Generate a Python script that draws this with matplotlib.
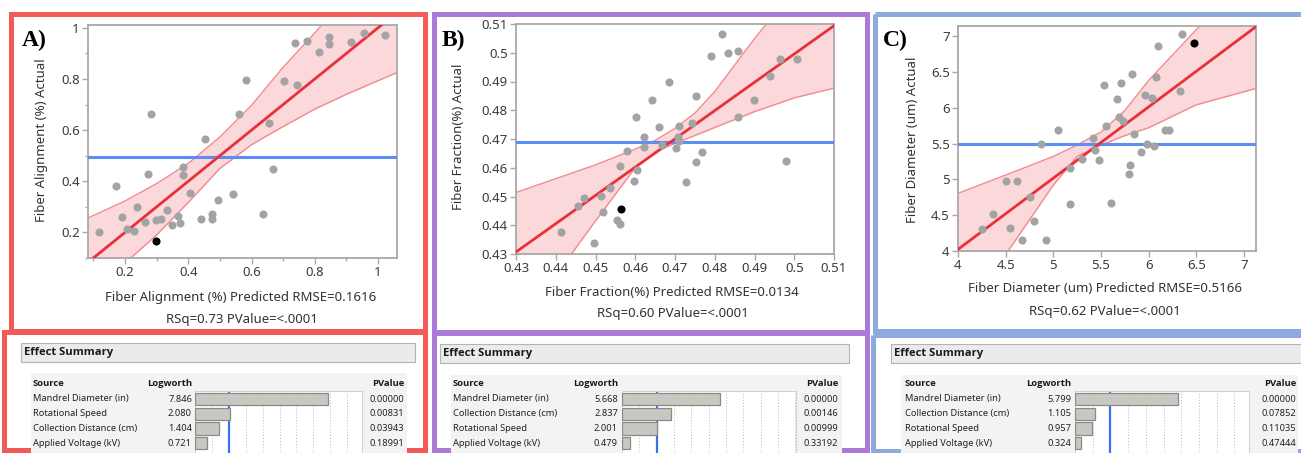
import matplotlib.pyplot as plt
from matplotlib.patches import Rectangle

plt.rcParams['font.family'] = ['Noto Sans', 'DejaVu Sans']
BOLD = ['Open Sans', 'DejaVu Sans']

W, H = 1301, 453

# ---------------- panel A : fiber alignment ----------------
a_pred = [0.119, 0.172, 0.189, 0.205, 0.229, 0.239, 0.264, 0.274, 0.281, 0.297,
          0.315, 0.333, 0.348, 0.366, 0.374, 0.382, 0.382, 0.406, 0.441, 0.452,
          0.475, 0.475, 0.493, 0.543, 0.559, 0.584, 0.635, 0.654, 0.668, 0.702,
          0.736, 0.744, 0.777, 0.812, 0.845, 0.845, 0.914, 0.956, 1.023]
a_act = [0.200, 0.383, 0.260, 0.215, 0.204, 0.301, 0.240, 0.428, 0.664, 0.248,
         0.253, 0.287, 0.228, 0.266, 0.237, 0.454, 0.423, 0.355, 0.253, 0.565,
         0.272, 0.253, 0.327, 0.351, 0.664, 0.796, 0.273, 0.627, 0.448, 0.791,
         0.940, 0.777, 0.947, 0.906, 0.965, 0.937, 0.943, 0.981, 0.971]
a_blk = (0.297, 0.165)
a_fit_x = [0.05, 1.10]
a_fit_y = [0.05, 1.10]
a_mean = 0.496
a_band_x = [0.084, 0.2, 0.3, 0.4, 0.5, 0.6, 0.7, 0.8, 0.9, 1.058]
a_band_lo = [-0.05, 0.08, 0.19, 0.317, 0.45, 0.543, 0.614, 0.682, 0.74, 0.824]
a_band_hi = [0.257, 0.323, 0.391, 0.470, 0.573, 0.697, 0.846, 0.98, 1.12, 1.33]
a_ticks = [0.2, 0.4, 0.6, 0.8, 1.0]
a_ticklabels = ['0.2', '0.4', '0.6', '0.8', '1']

# ---------------- panel B : fiber fraction ----------------
b_pred = [0.4413, 0.4455, 0.4472, 0.4495, 0.4514, 0.4520, 0.4537, 0.4554, 0.4562, 0.4562,
          0.4579, 0.4596, 0.4602, 0.4605, 0.4621, 0.4621, 0.4642, 0.4661, 0.4668, 0.4684,
          0.4702, 0.4708, 0.4711, 0.4711, 0.4727, 0.4743, 0.4752, 0.4752, 0.4769, 0.4791,
          0.4817, 0.4833, 0.4858, 0.4858, 0.4899, 0.4938, 0.4963, 0.4980, 0.5006]
b_act = [0.4378, 0.4467, 0.4494, 0.4338, 0.4502, 0.4446, 0.4530, 0.4417, 0.4403, 0.4607,
         0.4659, 0.4553, 0.4775, 0.4593, 0.4706, 0.4673, 0.4836, 0.4742, 0.4679, 0.4897,
         0.4669, 0.4706, 0.4746, 0.4692, 0.4552, 0.4756, 0.4850, 0.4619, 0.4655, 0.4988,
         0.5065, 0.5000, 0.4775, 0.5007, 0.4837, 0.4919, 0.4977, 0.4623, 0.4977]
b_blk = (0.4563, 0.4455)
b_fit_x = [0.43, 0.51]
b_fit_y = [0.4307, 0.5094]
b_mean = 0.469
b_band_x = [0.43, 0.44, 0.45, 0.46, 0.465, 0.47, 0.475, 0.48, 0.49, 0.50, 0.51]
b_band_lo = [0.404, 0.4225, 0.4415, 0.4600, 0.4655, 0.4685, 0.4712, 0.4740, 0.4795, 0.4843, 0.4877]
b_band_hi = [0.4514, 0.4562, 0.4610, 0.4665, 0.4695, 0.4737, 0.4790, 0.4865, 0.5049, 0.522, 0.54]
b_ticks = [0.43, 0.44, 0.45, 0.46, 0.47, 0.48, 0.49, 0.50, 0.51]
b_ticklabels = ['0.43', '0.44', '0.45', '0.46', '0.47', '0.48', '0.49', '0.5', '0.51']

# ---------------- panel C : fiber diameter ----------------
c_pred = [4.256, 4.371, 4.508, 4.550, 4.623, 4.669, 4.756, 4.802, 4.872, 4.921,
          5.054, 5.173, 5.180, 5.303, 5.415, 5.439, 5.478, 5.534, 5.555, 5.600,
          5.667, 5.684, 5.712, 5.733, 5.789, 5.803, 5.828, 5.849, 5.915, 5.961,
          5.982, 6.038, 6.055, 6.080, 6.097, 6.167, 6.216, 6.332, 6.349]
c_act = [4.312, 4.521, 4.972, 4.316, 4.981, 4.153, 4.749, 4.419, 5.493, 4.153,
         5.684, 5.153, 4.651, 5.288, 5.581, 5.409, 5.270, 6.316, 5.749, 4.674,
         6.116, 5.874, 6.349, 5.819, 5.070, 5.205, 6.474, 5.628, 5.381, 6.181,
         5.488, 6.140, 5.460, 6.433, 6.865, 5.688, 5.688, 6.233, 7.023]
c_blk = (6.472, 6.898)
c_fit_x = [4.0, 7.13]
c_fit_y = [4.023, 7.135]
c_mean = 5.493
c_band_x = [4.0, 4.5, 5.0, 5.25, 5.5, 5.75, 6.0, 6.5, 7.13]
c_band_lo = [3.0, 3.95, 4.92, 5.32, 5.477, 5.61, 5.72, 6.04, 6.27]
c_band_hi = [4.805, 5.06, 5.32, 5.48, 5.66, 5.96, 6.38, 7.09, 7.9]
c_ticks = [4, 4.5, 5, 5.5, 6, 6.5, 7]
c_ticklabels = ['4', '4.5', '5', '5.5', '6', '6.5', '7']

# ---------------- effect summaries ----------------
eff_a_src = ['Mandrel Diameter (in)', 'Rotational Speed',
             'Collection Distance (cm)', 'Applied Voltage (kV)']
eff_a_logw = [7.846, 2.080, 1.404, 0.721]
eff_a_p = ['0.00000', '0.00831', '0.03943', '0.18991']

eff_b_src = ['Mandrel Diameter (in)', 'Collection Distance (cm)',
             'Rotational Speed', 'Applied Voltage (kV)']
eff_b_logw = [5.668, 2.837, 2.001, 0.479]
eff_b_p = ['0.00000', '0.00146', '0.00999', '0.33192']

eff_c_src = ['Mandrel Diameter (in)', 'Collection Distance (cm)',
             'Rotational Speed', 'Applied Voltage (kV)']
eff_c_logw = [5.799, 1.105, 0.957, 0.324]
eff_c_p = ['0.00000', '0.07852', '0.11035', '0.47444']

RED = '#f25a5a'
PURPLE = '#aa7ad6'
BLUE = '#8caadc'


def px_rect(x0, y0, x1, y1):
    return [x0 / W, 1 - y1 / H, (x1 - x0) / W, (y1 - y0) / H]


fig = plt.figure(figsize=(W / 100, H / 100), dpi=100)
bg = fig.add_axes([0, 0, 1, 1])
bg.set_xlim(0, W)
bg.set_ylim(H, 0)
bg.axis('off')

# coloured frames (top and bottom boxes of each panel)
for (x0, y0, x1, y1, col) in [(10.5, 13.5, 425, 330.5, RED), (3.5, 332, 425, 450, RED),
                              (433.5, 13.5, 866.5, 332.5, PURPLE), (433.5, 332, 866.5, 450, PURPLE),
                              (875, 13.5, 1320, 330.5, BLUE), (873, 335, 1320, 451, BLUE)]:
    bg.add_patch(Rectangle((x0, y0), x1 - x0, y1 - y0, fill=False, ec=col, lw=3.6))


def scatter_panel(rect, pred, act, blk, fx, fy, mean, bx, blo, bhi,
                  xlim, ylim, ticks, ticklabels, minor=None):
    ax = fig.add_axes(px_rect(*rect))
    ax.fill_between(bx, blo, bhi, color='#fbd8da', lw=0, zorder=1)
    ax.plot(bx, blo, color='#f28a8f', lw=1.0, zorder=2)
    ax.plot(bx, bhi, color='#f28a8f', lw=1.0, zorder=2)
    ax.axhline(mean, color='#5b8ef0', lw=2.2, zorder=3)
    ax.plot(fx, fy, color='#e8303a', lw=2.0, zorder=4)
    ax.scatter(pred, act, s=34, color='#a3a3a3', lw=0, zorder=5)
    ax.scatter([blk[0]], [blk[1]], s=34, color='black', lw=0, zorder=6)
    ax.set_xlim(*xlim)
    ax.set_ylim(*ylim)
    ax.set_xticks(ticks)
    ax.set_xticklabels(ticklabels)
    ax.set_yticks(ticks)
    ax.set_yticklabels(ticklabels)
    if minor is not None:
        ax.set_xticks(minor, minor=True)
        ax.set_yticks(minor, minor=True)
    for s in ax.spines.values():
        s.set_color('#a8a8a8')
        s.set_linewidth(1.3)
    ax.tick_params(which='major', length=4, width=1, color='#a8a8a8',
                   labelcolor='#3c3c3c', labelsize=9.5, pad=2)
    ax.tick_params(which='minor', length=2.5, width=1, color='#a8a8a8')
    return ax


scatter_panel((88, 25, 397, 258), a_pred, a_act, a_blk, a_fit_x, a_fit_y, a_mean,
              a_band_x, a_band_lo, a_band_hi, (0.083, 1.06), (0.132, 1.011),
              a_ticks, a_ticklabels, minor=[0.1, 0.3, 0.5, 0.7, 0.9])
scatter_panel((516, 24, 834, 254), b_pred, b_act, b_blk, b_fit_x, b_fit_y, b_mean,
              b_band_x, b_band_lo, b_band_hi, (0.43, 0.51), (0.43, 0.51),
              b_ticks, b_ticklabels)
scatter_panel((958, 26, 1256, 251), c_pred, c_act, c_blk, c_fit_x, c_fit_y, c_mean,
              c_band_x, c_band_lo, c_band_hi, (4.0, 7.126), (4.0, 7.14),
              c_ticks, c_ticklabels)

# panel letters, axis titles, fit statistics
for (x, y, s) in [(22, 40, 'A)'), (442, 40, 'B)'), (883, 40, 'C)')]:
    bg.text(x, y, s, family='Liberation Serif', weight='bold', fontsize=17,
            ha='left', va='center', color='black')

lab = dict(fontsize=9.5, color='#333333', ha='center', va='center')
bg.text(42, 140, 'Fiber Alignment (%) Actual', rotation=90, **lab)
bg.text(458, 137, 'Fiber Fraction(%) Actual', rotation=90, **lab)
bg.text(913, 140, 'Fiber Diameter (um) Actual', rotation=90, **lab)
bg.text(241, 297, 'Fiber Alignment (%) Predicted RMSE=0.1616', **lab)
bg.text(242, 320, 'RSq=0.73 PValue=<.0001', **lab)
bg.text(672, 293, 'Fiber Fraction(%) Predicted RMSE=0.0134', **lab)
bg.text(673, 314, 'RSq=0.60 PValue=<.0001', **lab)
bg.text(1105, 289, 'Fiber Diameter (um) Predicted RMSE=0.5166', **lab)
bg.text(1105, 311, 'RSq=0.62 PValue=<.0001', **lab)


def effect_table(hdr, tbl, bar, src_x, logw_x, p_x, src, logw, pv, xmax):
    hx0, hy0, hx1, hy1 = hdr
    bg.add_patch(Rectangle((hx0, hy0), hx1 - hx0, hy1 - hy0, fc='#ebebeb', ec='#b4b4b4', lw=0.8))
    bg.text(hx0 + 3, (hy0 + hy1) / 2, 'Effect Summary', family=BOLD, fontsize=8.1,
            weight='bold', ha='left', va='center', color='#1a1a1a')
    tx0, ty0, tx1, ty1 = tbl
    bg.add_patch(Rectangle((tx0, ty0), tx1 - tx0, ty1 - ty0, fc='#f3f3f3', ec='none'))
    hdr_y = 383
    hb = dict(family=BOLD, fontsize=6.8, weight='bold', va='center', color='#1a1a1a')
    bg.text(src_x, hdr_y, 'Source', ha='left', **hb)
    bg.text(logw_x, hdr_y, 'Logworth', ha='right', **hb)
    bg.text(p_x, hdr_y, 'PValue', ha='right', **hb)
    for i in range(len(src)):
        y = 399 + 14.67 * i
        bg.text(src_x, y, src[i], fontsize=6.7, ha='left', va='center', color='#222222')
        bg.text(logw_x, y, f'{logw[i]:.3f}', fontsize=6.7, ha='right', va='center', color='#222222')
        bg.text(p_x, y, pv[i], fontsize=6.7, ha='right', va='center', color='#222222')
    bx0, by0, bx1, by1 = bar
    ax = fig.add_axes(px_rect(bx0, by0, bx1, by1))
    ax.set_facecolor('white')
    ax.set_xlim(0, xmax)
    ax.set_ylim(3.68, -0.545)
    for g in range(1, int(xmax) + 1):
        ax.axvline(g, color='#b8b8b8', lw=0.7, ls=(0, (1, 2)), zorder=1)
    ax.axvline(2, color='#3a6ff0', lw=1.6, zorder=2)
    ax.barh(range(len(logw)), logw, height=0.84, color='#c8c8c3', ec='#8a8a86',
            lw=0.9, zorder=3)
    ax.set_xticks([])
    ax.set_yticks([])
    for s in ax.spines.values():
        s.set_color('#d2d2d2')
        s.set_linewidth(0.8)


effect_table((21, 343, 415, 362), (31, 373, 407, 453), (195, 391, 362, 453),
             33, 192, 404, eff_a_src, eff_a_logw, eff_a_p, 9.88)
effect_table((440, 344, 849, 363), (451, 375, 842, 453), (622, 391, 796, 453),
             453, 618, 838, eff_b_src, eff_b_logw, eff_b_p, 10.04)
effect_table((891, 344, 1305, 363), (901, 375, 1298, 453), (1075, 391, 1249, 453),
             905, 1071, 1296, eff_c_src, eff_c_logw, eff_c_p, 9.83)

fig.savefig('out.png', dpi=100)
